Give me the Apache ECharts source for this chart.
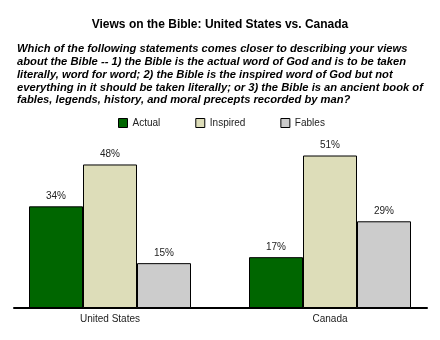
<!DOCTYPE html>
<html><head><meta charset="utf-8">
<script src="https://cdn.jsdelivr.net/npm/echarts@6/dist/echarts.min.js"></script>
<style>html,body{margin:0;padding:0;background:#fff}#c{width:440px;height:340px}</style>
</head><body><div id="c"></div>
<script>
const categories = ['United States', 'Canada'];
const seriesNames = ['Actual', 'Inspired', 'Fables'];
const actual = [34, 17];
const inspired = [48, 51];
const fables = [15, 29];
const titleText = 'Views on the Bible: United States vs. Canada';
const questionLines = [
  'Which of the following statements comes closer to describing your views',
  'about the Bible -- 1) the Bible is the actual word of God and is to be taken',
  'literally, word for word; 2) the Bible is the inspired word of God but not',
  'everything in it should be taken literally; or 3) the Bible is an ancient book of',
  'fables, legends, history, and moral precepts recorded by man?'
];
const colors = ['#006600', '#DDDDB9', '#CCCCCC'];
const font = 'Liberation Sans, Arial, sans-serif';

const chart = echarts.init(document.getElementById('c'), null, {renderer: 'canvas'});
const values = [actual, inspired, fables];
const series = seriesNames.map((n, i) => ({
  name: n, type: 'bar', data: values[i], xAxisIndex: 0, yAxisIndex: 0,
  barWidth: 54, barGap: '0%',
  itemStyle: {color: colors[i], borderColor: '#000', borderWidth: 1},
  label: {show: true, position: 'top', distance: 5, formatter: '{c}%',
    color: '#222', fontFamily: font, fontSize: 10}
}));
chart.setOption({
  animation: false,
  backgroundColor: '#fff',
  color: colors,
  title: [
    {text: titleText, left: 'center', top: 14,
      textStyle: {fontFamily: font, fontSize: 12, fontWeight: 'bold', color: '#000'}},
    {text: questionLines.join('\n'), left: 12, top: 38,
      textStyle: {fontFamily: font, fontSize: 11.2, fontWeight: 'bold', fontStyle: 'italic',
        color: '#000', lineHeight: 12.7}}
  ],
  legend: {
    data: seriesNames, top: 113, left: 113, itemWidth: 9, itemHeight: 9, itemGap: 35,
    icon: 'rect',
    itemStyle: {borderColor: '#000', borderWidth: 1},
    textStyle: {fontFamily: font, fontSize: 10, color: '#222'}
  },
  grid: [
    {left: -2, right: -2, top: 128.6, bottom: 32, containLabel: false},
    {left: 14, right: 13, top: 128.6, bottom: 32, containLabel: false}
  ],
  xAxis: [
    {type: 'category', gridIndex: 0, data: categories,
      axisLine: {show: false}, axisTick: {show: false},
      axisLabel: {fontFamily: font, fontSize: 10, color: '#222', margin: 6}},
    {type: 'category', gridIndex: 1, data: categories,
      axisLine: {show: true, lineStyle: {color: '#000', width: 2}},
      axisTick: {show: false}, axisLabel: {show: false}}
  ],
  yAxis: [
    {type: 'value', gridIndex: 0, min: 0, max: 60, show: false, splitLine: {show: false}},
    {type: 'value', gridIndex: 1, min: 0, max: 60, show: false, splitLine: {show: false}}
  ],
  series: series
});
</script></body></html>
